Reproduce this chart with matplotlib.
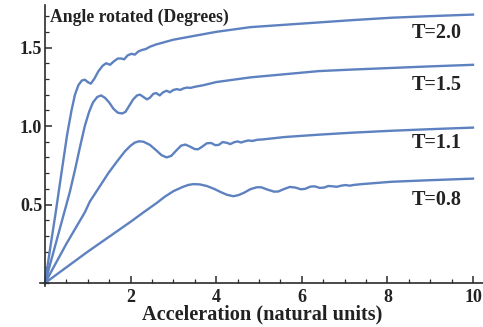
import matplotlib
matplotlib.use('Agg')
import matplotlib.pyplot as plt
from matplotlib.ticker import MultipleLocator

# values
x_t20 = [0, 0.12, 0.25, 0.40, 0.52, 0.62, 0.70, 0.78, 0.86, 0.93, 1.00, 1.07, 1.15, 1.25, 1.35, 1.43,
         1.52, 1.60, 1.70, 1.78, 1.85, 1.93, 2.02, 2.10, 2.18, 2.27, 2.35, 2.45, 2.6, 2.8, 3.0, 3.4,
         4.0, 4.8, 5.6, 6.4, 7.2, 8.1, 9.0, 10.0]
y_t20 = [0, 0.22, 0.45, 0.73, 0.95, 1.10, 1.20, 1.26, 1.29, 1.295, 1.28, 1.27, 1.30, 1.35, 1.385, 1.40,
         1.39, 1.41, 1.43, 1.43, 1.425, 1.45, 1.46, 1.455, 1.475, 1.485, 1.49, 1.505, 1.52, 1.535, 1.55, 1.57,
         1.60, 1.63, 1.645, 1.66, 1.675, 1.69, 1.70, 1.71]

x_t15 = [0, 0.2, 0.43, 0.58, 0.70, 0.82, 0.93, 1.03, 1.12, 1.22, 1.31, 1.40, 1.50, 1.60, 1.70, 1.80,
         1.88, 1.97, 2.06, 2.15, 2.22, 2.30, 2.38, 2.45, 2.53, 2.60, 2.68, 2.76, 2.84, 2.92, 3.00, 3.08,
         3.16, 3.24, 3.32, 3.40, 3.5, 3.7, 4.0, 4.4, 4.8, 5.6, 6.4, 7.2, 8.1, 9.0, 10.0]
y_t15 = [0, 0.20, 0.43, 0.58, 0.72, 0.87, 1.00, 1.09, 1.15, 1.185, 1.195, 1.18, 1.15, 1.11, 1.085, 1.08,
         1.09, 1.13, 1.17, 1.195, 1.20, 1.185, 1.17, 1.18, 1.205, 1.21, 1.195, 1.215, 1.225, 1.215, 1.23, 1.235,
         1.23, 1.24, 1.245, 1.243, 1.25, 1.26, 1.28, 1.295, 1.31, 1.33, 1.35, 1.36, 1.37, 1.38, 1.39]

x_t11 = [0, 0.5, 0.93, 1.05, 1.29, 1.48, 1.67, 1.87, 2.00, 2.10, 2.20, 2.30, 2.45, 2.60, 2.72, 2.84,
         2.95, 3.07, 3.18, 3.28, 3.38, 3.50, 3.58, 3.68, 3.78, 3.88, 3.98, 4.06, 4.15, 4.25, 4.33, 4.42,
         4.50, 4.58, 4.66, 4.75, 4.85, 4.95, 5.1, 5.6, 6.4, 7.2, 8.1, 9.0, 10.0]
y_t11 = [0, 0.25, 0.45, 0.52, 0.62, 0.70, 0.77, 0.84, 0.875, 0.895, 0.903, 0.90, 0.88, 0.845, 0.815, 0.80,
         0.81, 0.845, 0.875, 0.882, 0.87, 0.853, 0.852, 0.87, 0.89, 0.892, 0.878, 0.88, 0.898, 0.893, 0.885, 0.897,
         0.902, 0.895, 0.902, 0.908, 0.905, 0.912, 0.915, 0.93, 0.945, 0.958, 0.97, 0.98, 0.99]

x_t08 = [0, 1.0, 2.0, 2.30, 2.61, 2.80, 3.00, 3.20, 3.35, 3.47, 3.62, 3.78, 3.95, 4.10, 4.25, 4.40,
         4.52, 4.65, 4.80, 4.95, 5.05, 5.20, 5.35, 5.45, 5.58, 5.72, 5.85, 5.98, 6.08, 6.20, 6.30, 6.42,
         6.52, 6.62, 6.72, 6.82, 6.92, 7.02, 7.12, 7.22, 7.4, 8.1, 9.0, 10.0]
y_t08 = [0, 0.20, 0.39, 0.45, 0.51, 0.55, 0.585, 0.61, 0.625, 0.63, 0.628, 0.618, 0.60, 0.58, 0.562, 0.553,
         0.56, 0.575, 0.598, 0.61, 0.61, 0.595, 0.582, 0.583, 0.598, 0.612, 0.608, 0.597, 0.60, 0.614, 0.616, 0.606,
         0.608, 0.618, 0.616, 0.613, 0.62, 0.624, 0.62, 0.625, 0.63, 0.645, 0.655, 0.665]

curve_labels = ['T=2.0', 'T=1.5', 'T=1.1', 'T=0.8']
label_y = [1.594, 1.261, 0.890, 0.529]
label_x = 9.16

line_color = '#5e81c0'
axis_color = '#2b2b2b'
serif = ['Liberation Serif', 'DejaVu Serif']

fig = plt.figure(figsize=(4.83, 3.27), dpi=100)
ax = fig.add_axes([40 / 483, 41 / 327, 443 / 483, 281 / 327])

for xs, ys in [(x_t20, y_t20), (x_t15, y_t15), (x_t11, y_t11), (x_t08, y_t08)]:
    ax.plot(xs, ys, color=line_color, linewidth=1.7, solid_joinstyle='round')

ax.set_xlim(-0.117, 10.234)
ax.set_ylim(-0.019, 1.771)

# axes through the origin, Mathematica style
for side in ['top', 'right']:
    ax.spines[side].set_visible(False)
for side in ['left', 'bottom']:
    ax.spines[side].set_position('zero')
    ax.spines[side].set_color(axis_color)
    ax.spines[side].set_linewidth(1.2)

ax.set_xticks([2, 4, 6, 8, 10])
ax.set_yticks([0.5, 1.0, 1.5])
ax.set_yticklabels(['0.5', '1.0', '1.5'])
ax.xaxis.set_minor_locator(MultipleLocator(0.5))
ax.yaxis.set_minor_locator(MultipleLocator(0.1))
ax.tick_params(which='major', direction='in', length=5, width=1.1, color=axis_color)
ax.tick_params(which='minor', direction='in', length=3, width=0.9, color=axis_color)
ax.tick_params(axis='x', which='major', pad=4)
ax.tick_params(axis='y', which='major', pad=2)
for lab in ax.get_xticklabels() + ax.get_yticklabels():
    lab.set_family(serif)
    lab.set_fontweight('bold')
    lab.set_fontsize(13)
    lab.set_color('#222222')

for txt, yy in zip(curve_labels, label_y):
    ax.text(label_x, yy, txt, ha='center', va='center', family=serif, fontweight='bold',
            fontsize=14.5, color='#222222')

fig.text(50 / 483, 1 - 17 / 327, 'Angle rotated (Degrees)', ha='left', va='center', family=serif,
         fontweight='bold', fontsize=12.7, color='#222222')
fig.text(262 / 483, 1 - 314 / 327, 'Acceleration (natural units)', ha='center', va='center', family=serif,
         fontweight='bold', fontsize=14.6, color='#222222')

fig.savefig('out.png', dpi=100)
